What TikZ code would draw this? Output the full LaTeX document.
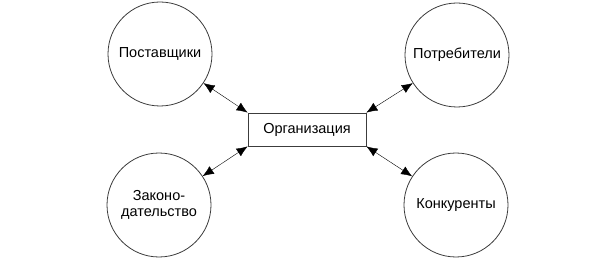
\documentclass[tikz,border=0pt]{standalone}
\usepackage{fontspec}
\setmainfont{Liberation Sans}
\usetikzlibrary{arrows.meta,positioning}
\definecolor{linegray}{RGB}{60,60,60}

\begin{document}
\begin{tikzpicture}[
    x=1pt,
    y=-1pt,
    >={Latex[length=11pt,width=9pt]}
]

\tikzset{
    party/.style={
        circle,
        draw=linegray,
        line width=0.8pt,
        minimum size=104pt,
        inner sep=0pt,
        align=center,
        font=\fontsize{14.5}{15.5}\selectfont
    },
    org/.style={
        rectangle,
        draw=linegray,
        line width=0.8pt,
        minimum width=118pt,
        minimum height=33pt,
        font=\fontsize{14.5}{15.5}\selectfont
    }
}

\useasboundingbox (0,0) rectangle (600,259);

\node[org] (firm) at (307,129.5) {Организация};

\node[party] (suppliers) at (160,54) {Поставщики};
\node[party] (consumers) at (457,55) {Потребители};
\node[party] (law) at (159,205) {Законо-\\дательство};
\node[party] (rivals) at (456,205) {Конкуренты};

\draw[<->,thin] (suppliers) -- (firm.north west);
\draw[<->,thin] (law) -- (firm.south west);
\draw[<->,thin] (consumers) -- (firm.north east);
\draw[<->,thin] (rivals) -- (firm.south east);

\end{tikzpicture}
\end{document}
